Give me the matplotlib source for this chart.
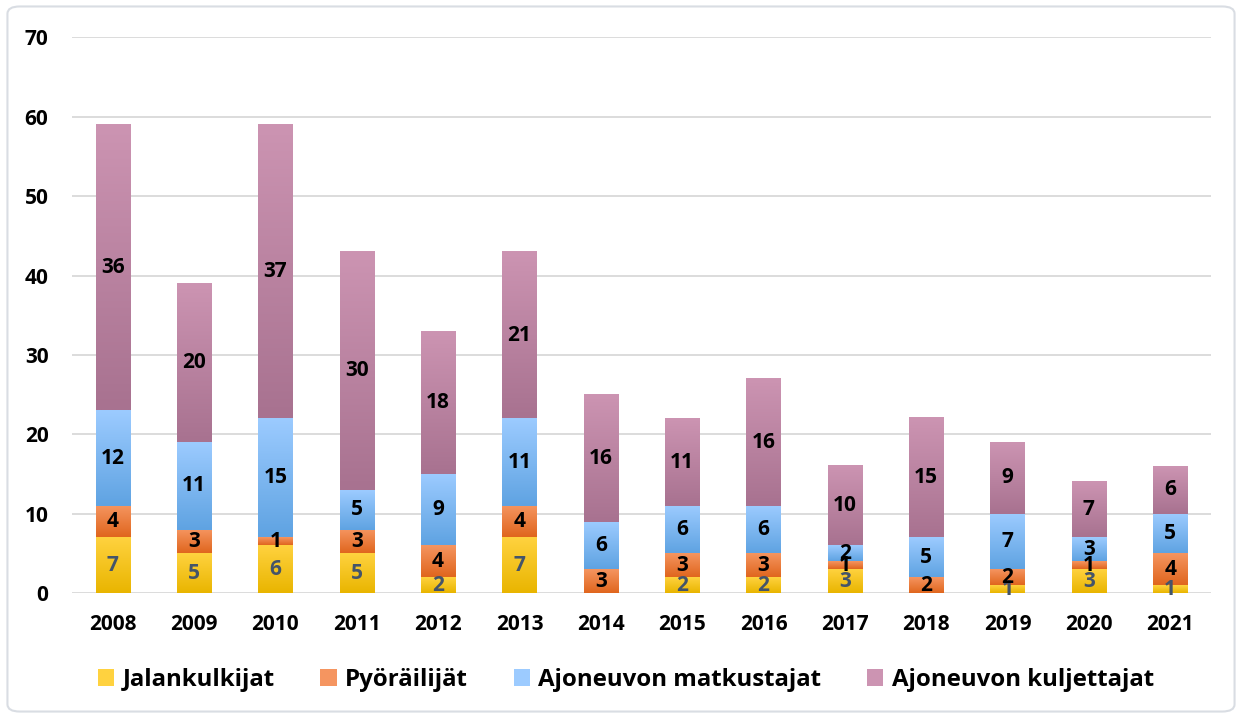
import numpy as np
import matplotlib.pyplot as plt
from matplotlib.colors import LinearSegmentedColormap
from matplotlib.patches import FancyBboxPatch

years = ['2008', '2009', '2010', '2011', '2012', '2013', '2014',
         '2015', '2016', '2017', '2018', '2019', '2020', '2021']
jalankulkijat = [7, 5, 6, 5, 2, 7, 0, 2, 2, 3, 0, 1, 3, 1]
pyorailijat = [4, 3, 1, 3, 4, 4, 3, 3, 3, 1, 2, 2, 1, 4]
matkustajat = [12, 11, 15, 5, 9, 11, 6, 6, 6, 2, 5, 7, 3, 5]
kuljettajat = [36, 20, 37, 30, 18, 21, 16, 11, 16, 10, 15, 9, 7, 6]

series = [
    ('Jalankulkijat', jalankulkijat, '#E9B500', '#FFD23F', '#44546A'),
    ('Pyöräilijät', pyorailijat, '#E0661E', '#F59560', 'black'),
    ('Ajoneuvon matkustajat', matkustajat, '#5FA3E2', '#9CCBFF', 'black'),
    ('Ajoneuvon kuljettajat', kuljettajat, '#A87290', '#CC94B2', 'black'),
]

plt.rcParams['font.family'] = ['Open Sans', 'DejaVu Sans']
plt.rcParams['font.weight'] = 'bold'

fig = plt.figure(figsize=(12.42, 7.18), dpi=100)
ax = fig.add_axes([0.058, 0.174, 0.917, 0.774])

x = np.arange(len(years))
bottom = np.zeros(len(years))
handles = []
grad = np.linspace(0, 1, 100).reshape(-1, 1)
for name, vals, dark, light, tcol in series:
    vals = np.array(vals)
    bars = ax.bar(x, vals, 0.42, bottom=bottom, color=light, label=name, zorder=2)
    cmap = LinearSegmentedColormap.from_list(name, [dark, light])
    for b in bars:
        if b.get_height() == 0:
            continue
        ax.imshow(grad, extent=[b.get_x(), b.get_x() + b.get_width(),
                                b.get_y(), b.get_y() + b.get_height()],
                  aspect='auto', cmap=cmap, origin='lower', zorder=3)
    for xi, v, b0 in zip(x, vals, bottom):
        if v > 0:
            ax.text(xi, b0 + v / 2, str(v), ha='center', va='center',
                    fontsize=15, fontweight='bold', color=tcol, zorder=4)
    handles.append(bars)
    bottom = bottom + vals

ax.set_xlim(-0.5, len(years) - 0.5)
ax.set_ylim(0, 70)
ax.set_yticks(range(0, 71, 10))
ax.set_xticks(x)
ax.set_xticklabels(years)
ax.grid(axis='y', color='#D9D9D9', linewidth=1.3, zorder=0)
ax.set_axisbelow(True)
for s in ax.spines.values():
    s.set_visible(False)
ax.tick_params(axis='both', length=0, labelsize=15)
for lab in ax.get_xticklabels() + ax.get_yticklabels():
    lab.set_fontweight('bold')
ax.tick_params(axis='x', pad=15)
ax.tick_params(axis='y', pad=17)

leg = fig.legend(handles=handles, loc='lower center', ncol=4, frameon=False,
                 fontsize=17.3, bbox_to_anchor=(0.504, 0.006), handlelength=0.68,
                 handleheight=0.68, handletextpad=0.35, columnspacing=1.9)
for t in leg.get_texts():
    t.set_fontweight('bold')

fig.patches.append(FancyBboxPatch((0.006, 0.009), 0.988, 0.982,
                                  boxstyle='round,pad=0,rounding_size=0.01',
                                  transform=fig.transFigure, fill=False,
                                  edgecolor='#D9DDE3', linewidth=1.5))

fig.savefig('out.png', dpi=100)
